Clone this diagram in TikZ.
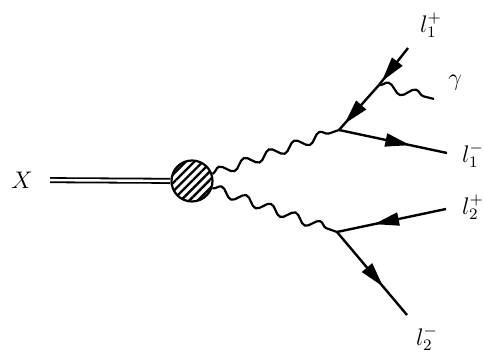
\documentclass[tikz,border=0pt]{standalone}
\usetikzlibrary{decorations.pathmorphing, decorations.markings, arrows.meta, patterns.meta}

\begin{document}
\begin{tikzpicture}[
    % one unit is one pixel of the 484x356 frame
    x=0.5pt, y=-0.5pt,
    font=\large,
    fermion/.style={
        line width=1.2pt, postaction={decorate},
        decoration={markings,
            mark=at position #1 with {\arrow{Triangle[length=12.5pt, width=6.5pt]}}}
    },
    fermion/.default=0.66,
    photon/.style={
        line width=1.1pt, decorate,
        decoration={snake, amplitude=2.3pt, segment length=#1}
    },
    photon/.default=13.3pt,
    scalar/.style={line width=0.9pt, double, double distance=1.2pt},
    blob/.style={
        circle, draw, line width=1.1pt, minimum size=20.5pt, inner sep=0pt,
        pattern={Lines[angle=45, distance=3pt, line width=1.2pt]}
    },
    lbl/.style={inner sep=0pt}
]
  \useasboundingbox (0,0) rectangle (484,356);

  % Production
  \node[inner xsep=8.5pt, inner ysep=0pt] (X) at (22,180) {$X$};
  \node[blob] (blob) at (192,181) {};

  % Vertices and outer ends
  \coordinate (v1) at (339,130);
  \coordinate (v2) at (337,232);
  \coordinate (g) at (379,85);
  \coordinate (p1) at (408,48);
  \coordinate (gend) at (434,99);
  \coordinate (m1) at (447,153);
  \coordinate (p2) at (446,209);
  \coordinate (m2) at (407,315);

  % Labels
  \node[lbl] (lp1) at (431,25) {$l_1^+$};
  \node[lbl] (lgam) at (455,83) {$\gamma$};
  \node[lbl] (lm1) at (473,155) {$l_1^-$};
  \node[lbl] (lp2) at (473,207) {$l_2^+$};
  \node[lbl] (lm2) at (427,338) {$l_2^-$};

  % Lines
  \draw[scalar] (X) -- (blob);
  \draw[photon] (blob) -- (v1);
  \draw[photon=13.05pt] (blob) -- (v2);
  \draw[fermion=0.9] (p1) -- (g);
  \draw[fermion=0.86] (g) -- (v1);
  \draw[photon=14.1pt] (g) -- (gend);
  \draw[fermion] (v1) -- (m1);
  \draw[fermion] (p2) -- (v2);
  \draw[fermion] (v2) -- (m2);

\end{tikzpicture}
\end{document}
